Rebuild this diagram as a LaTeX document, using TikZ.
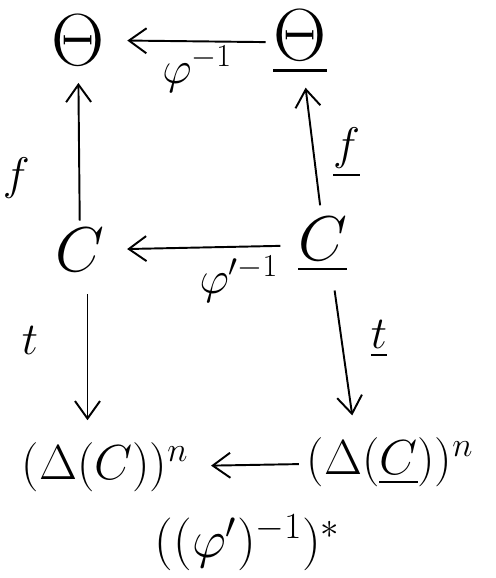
\RequirePackage{fix-cm}
\documentclass[tikz,border=0pt]{standalone}
\usepackage{amsmath, amssymb}
\usepackage{tikz}
\usetikzlibrary{arrows.meta, positioning, calc}

\begin{document}
\begin{tikzpicture}[
    >={Straight Barb[length=3.5mm, width=5mm]},
    obj/.style={inner sep=1pt, font=\fontsize{36}{42}\selectfont},
    big/.style={inner sep=1pt, font=\fontsize{42}{48}\selectfont},
    tuple/.style={inner sep=1pt, font=\fontsize{28}{34}\selectfont},
    lbl/.style={font=\fontsize{26}{30}\selectfont, inner sep=2pt},
    every path/.style={line width=1.1pt},
]
    \useasboundingbox (0,0) rectangle (9.9,-11.56);

    % Objects
    \node[big] (th) at (1.56,-0.8) {$\Theta$};
    \node[big] (uth) at (6.0,-0.85) {$\underline{\Theta}$};
    \node[obj] (c) at (1.6,-5.0) {$C$};
    \node[obj] (uc) at (6.45,-4.9) {$\underline{C}$};
    \node[tuple] (dc) at (2.1,-9.35) {$(\Delta(C))^n$};
    \node[tuple] (duc) at (7.8,-9.25) {$(\Delta(\underline{C}))^n$};

    % Top square
    \draw[->, shorten <=1mm, shorten >=4mm] (uth) -- node[lbl, below=0mm, pos=0.45] {$\varphi^{-1}$} (th);
    \draw[->, shorten <=1mm, shorten >=3mm] (c) -- node[lbl, left=9mm, pos=0.3] {$f$} (th);
    \draw[->, shorten <=8mm, shorten >=2mm] ($(uc.center)+(0.05,0)$) -- node[lbl, right=3mm, pos=0.55] {$\underline{f}$} (uth);
    \draw[->, shorten <=3mm, shorten >=4mm] (uc) -- node[lbl, below=1mm, pos=0.3] {$\varphi'^{-1}$} (c);

    % Bottom square
    \draw[->, shorten <=4mm, shorten >=4mm] ($(c.south)+(0.15,0)$) -- node[lbl, left=9mm, pos=0.4] {$t$}
         ($(c.south |- dc.north)+(0.15,0)$);
    \draw[->, shorten <=3mm, shorten >=4mm] ($(uc.south)+(0.2,0)$) -- node[lbl, right=5mm, pos=0.4] {$\underline{t}$}
         ($(duc.north)+(-0.7,0)$);
    \draw[->, shorten <=1mm, shorten >=4mm] (duc) -- node[lbl, below=9mm, font=\fontsize{30}{34}\selectfont] {$((\varphi')^{-1})^*$} (dc);
\end{tikzpicture}
\end{document}
